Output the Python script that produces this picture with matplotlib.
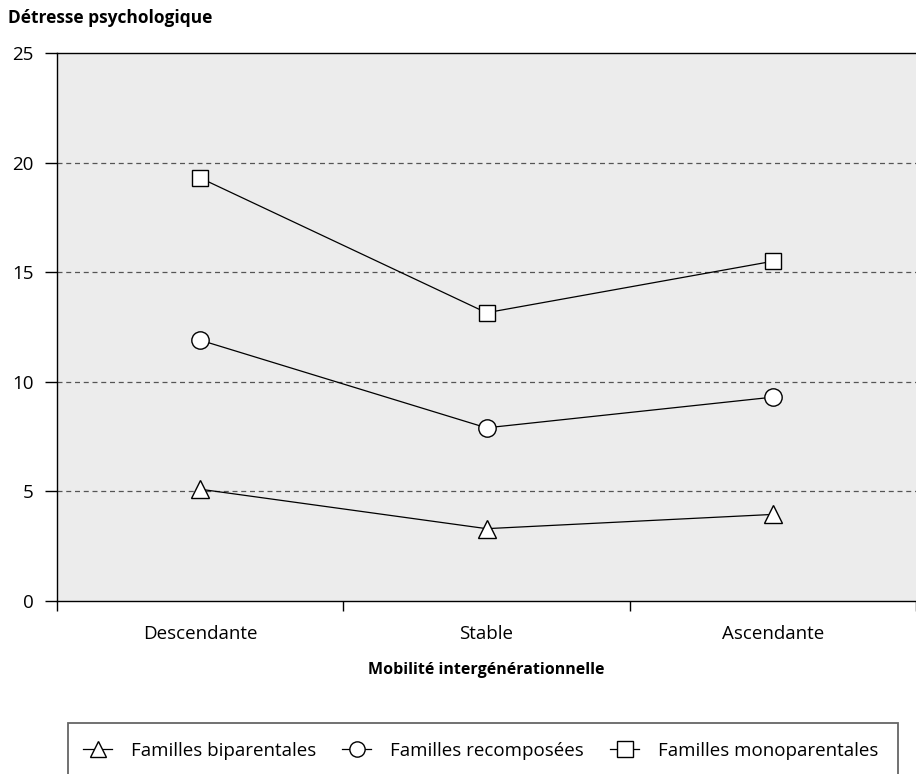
import matplotlib
matplotlib.use("Agg")
import matplotlib.pyplot as plt
from matplotlib.lines import Line2D
from matplotlib.patches import Rectangle

plt.rcParams["font.family"] = ["Open Sans", "DejaVu Sans"]

categories = ["Descendante", "Stable", "Ascendante"]
biparentales = [5.1, 3.3, 3.95]
recomposees = [11.9, 7.9, 9.3]
monoparentales = [19.3, 13.15, 15.5]

series = [
    ("Familles biparentales", biparentales, "^"),
    ("Familles recomposées", recomposees, "o"),
    ("Familles monoparentales", monoparentales, "s"),
]

W, H = 916, 774
fig = plt.figure(figsize=(W / 100, H / 100), dpi=100)
ax = fig.add_axes([57 / W, 1 - 601 / H, 1 - 57 / W, (601 - 53) / H])
ax.set_facecolor("#ececec")

xs = [i + 0.5 for i in range(len(categories))]
for label, vals, marker in series:
    ax.plot(
        xs,
        vals,
        color="black",
        linewidth=0.9,
        marker=marker,
        markersize=12.5 if marker != "s" else 11,
        markerfacecolor="white",
        markeredgecolor="black",
        markeredgewidth=1.0,
        label=label,
        zorder=3,
    )

for y in [5, 10, 15, 20]:
    ax.axhline(y, color="#555555", linestyle=(0, (4, 3)), linewidth=0.9, zorder=1)

ax.set_xlim(0, 3)
ax.set_ylim(0, 25)
ax.set_yticks([0, 5, 10, 15, 20, 25])
ax.set_xticks([0, 1, 2, 3])
ax.set_xticklabels([])
ax.set_xticks(xs, minor=True)
ax.set_xticklabels(categories, minor=True)
ax.tick_params(axis="x", which="minor", length=0, pad=17, labelsize=13.5)
ax.tick_params(axis="x", which="major", length=7, width=1, direction="out")
ax.tick_params(axis="y", length=9, width=1, direction="out", pad=8, labelsize=13.5)

for side in ["left", "bottom", "top"]:
    ax.spines[side].set_linewidth(1.0)
ax.spines["right"].set_visible(False)

fig.text(8 / W, 1 - 18 / H, "Détresse psychologique", fontsize=12.5,
         fontweight="bold", va="center", ha="left")
fig.text(486 / W, 1 - 670 / H, "Mobilité intergénérationnelle", fontsize=11.5,
         fontweight="bold", va="center", ha="center")

# legend: frameless legend plus an open-bottom box like the original
handles = [
    Line2D([], [], color="black", linewidth=0.9, marker=m, markersize=11,
           markerfacecolor="white", markeredgecolor="black")
    for _, _, m in series
]
fig.legend(
    handles,
    [s[0] for s in series],
    loc="center left",
    bbox_to_anchor=(83 / W, 1 - 751 / H),
    ncol=3,
    fontsize=13.5,
    frameon=False,
    handlelength=1.55,
    handletextpad=1.0,
    columnspacing=1.4,
    borderpad=0,
    borderaxespad=0,
)
fig.add_artist(Rectangle((68 / W, -0.05), (898 - 68) / W, 0.05 + 1 - 723 / H,
                         transform=fig.transFigure, fill=False,
                         edgecolor="#666666", linewidth=1.3))

fig.savefig("out.png", dpi=100)
